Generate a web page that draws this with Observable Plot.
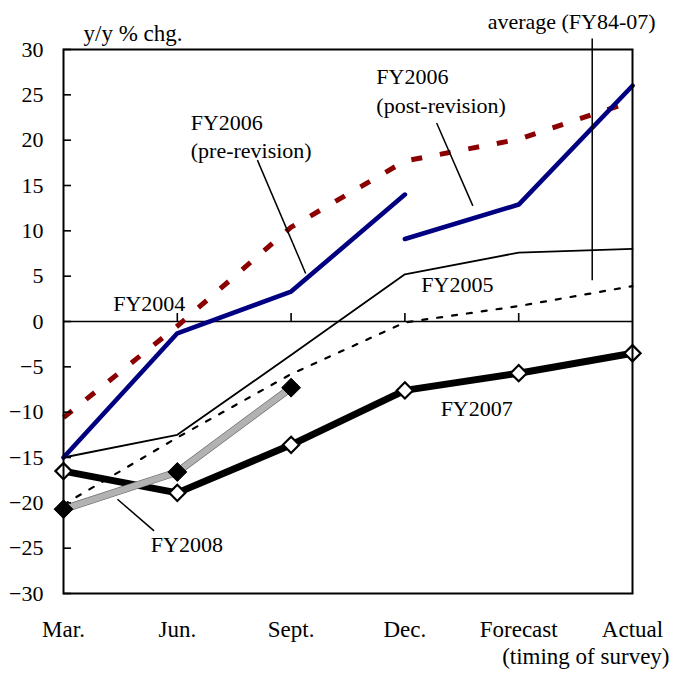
<!DOCTYPE html>
<html><head><meta charset="utf-8">
<script src="https://cdn.jsdelivr.net/npm/d3@7"></script>
<script src="https://cdn.jsdelivr.net/npm/@observablehq/plot@0.6"></script>
<style>body{margin:0;background:#fff}</style>
</head><body><div id="chart"></div>
<script>
const categories = ["Mar.", "Jun.", "Sept.", "Dec.", "Forecast", "Actual"];
const yTicks = [-30, -25, -20, -15, -10, -5, 0, 5, 10, 15, 20, 25, 30];
const fy2004 = [-10.6, -0.5, 10.4, 17.7, 20.1, 24.3];
const fy2005 = [-15.0, -12.5, -3.7, 5.2, 7.6, 8.0];
const fy2006Pre = [-15.0, -1.3, 3.3, 14.0, null, null];
const fy2006Post = [null, null, null, 9.1, 12.9, 26.0];
const fy2007 = [-16.5, -18.9, -13.6, -7.6, -5.7, -3.5];
const fy2008 = [-20.7, -16.6, -7.3, null, null, null];
const average = [-20.2, -12.8, -5.8, -0.1, 1.7, 3.9];

const rows = (vals) => vals.map((v, i) => ({i, v})).filter(d => d.v != null);
const font = "'Liberation Serif', 'Times New Roman', serif";

const chart = Plot.plot({
  width: 673, height: 673,
  marginLeft: 63, marginRight: 41, marginTop: 49, marginBottom: 80,
  style: {fontFamily: font, fontSize: "22px", background: "white", color: "black", overflow: "visible"},
  x: {domain: [0, categories.length - 1]},
  y: {domain: [-30, 30]},
  marks: [
    Plot.ruleY([0], {stroke: "black", strokeWidth: 1.6}),
    Plot.ruleX([1, 2, 3, 4], {x: d => d, y1: 0, y2: 0, insetTop: -8, stroke: "black", strokeWidth: 1.6}),
    Plot.line(rows(fy2005), {x: "i", y: "v", stroke: "black", strokeWidth: 1.8}),
    Plot.line(rows(fy2004), {x: "i", y: "v", stroke: "#8b0000", strokeWidth: 5, strokeDasharray: "11,18", strokeLinecap: "butt"}),
    Plot.line(rows(fy2006Pre), {x: "i", y: "v", stroke: "#000080", strokeWidth: 4.6}),
    Plot.line(rows(fy2006Post), {x: "i", y: "v", stroke: "#000080", strokeWidth: 4.6}),
    Plot.line(rows(fy2007), {x: "i", y: "v", stroke: "black", strokeWidth: 7}),
    Plot.line(rows(fy2008), {x: "i", y: "v", stroke: "#666", strokeWidth: 7.5}),
    Plot.line(rows(fy2008), {x: "i", y: "v", stroke: "url(#stipple)", strokeWidth: 6.3}),
    Plot.line(rows(average), {x: "i", y: "v", stroke: "black", strokeWidth: 2.2, strokeDasharray: "5,10"}),
    Plot.dot(rows(fy2008), {x: "i", y: "v", symbol: "diamond2", r: 8.5, fill: "black", stroke: "black", strokeWidth: 1}),
    Plot.dot(rows(fy2007), {x: "i", y: "v", symbol: "diamond2", r: 7.3, fill: "white", stroke: "black", strokeWidth: 2.2}),
    // leader lines (data coordinates)
    Plot.link([
      {x1: 1.704, y1: 17.8, x2: 2.128, y2: 5.3},
      {x1: 3.279, y1: 21.9, x2: 3.597, y2: 12.75},
      {x1: 4.646, y1: 31.2, x2: 4.646, y2: 4.56},
      {x1: 0.474, y1: -19.6, x2: 0.796, y2: -23.1}
    ], {x1: "x1", y1: "y1", x2: "x2", y2: "y2", stroke: "black", strokeWidth: 1.5}),
    Plot.text([
      {x: 0.754, y: 1.18, t: "FY2004"}
    ], {x: "x", y: "y", text: "t", textAnchor: "middle", lineAnchor: "bottom", fontSize: 22, fill: "black"}),
    Plot.text([
      {x: 1.118, y: 18.05, t: "FY2006\n(pre-revision)"},
      {x: 2.749, y: 23.04, t: "FY2006\n(post-revision)"},
      {x: 3.727, y: 32.27, t: "average (FY84-07)"},
      {x: 3.144, y: 3.2, t: "FY2005"},
      {x: 3.314, y: -10.4, t: "FY2007"},
      {x: 0.767, y: -25.47, t: "FY2008"}
    ], {x: "x", y: "y", text: "t", textAnchor: "start", lineAnchor: "bottom", lineHeight: 1.28, fontSize: 22, fill: "black"}),
    Plot.frame({stroke: "black", strokeWidth: 2}),
    Plot.axisY({ticks: yTicks, tickSize: -8, tickPadding: 28, strokeWidth: 1.6, fontSize: 22, label: null}),
    Plot.axisX({ticks: categories.map((_, i) => i), tickSize: 0, tickPadding: 27, tickFormat: i => categories[i], fontSize: 23, label: null}),
    Plot.text(["y/y % chg."], {frameAnchor: "top-left", dx: 20, dy: -9, textAnchor: "start", lineAnchor: "bottom", fontSize: 23}),
    Plot.text(["(timing of survey)"], {frameAnchor: "bottom-right", dx: 37, dy: 70, textAnchor: "end", lineAnchor: "bottom", fontSize: 23})
  ]
});

const svgNS = "http://www.w3.org/2000/svg";
const defs = document.createElementNS(svgNS, "defs");
defs.innerHTML = '<pattern id="stipple" width="2" height="2" patternUnits="userSpaceOnUse"><rect width="2" height="2" fill="#dcdcdc"/><rect width="1" height="1" fill="#333"/></pattern>';
chart.insertBefore(defs, chart.firstChild);
document.getElementById("chart").appendChild(chart);
</script>
</body></html>
